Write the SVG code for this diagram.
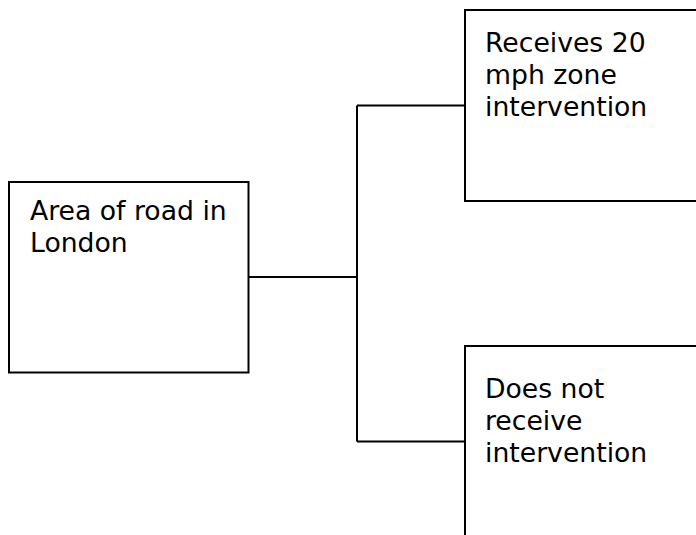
<svg xmlns="http://www.w3.org/2000/svg" width="696" height="535" viewBox="0 0 696 535">
<style>
.box{fill:#fff;stroke:#000;stroke-width:2}
.t{font-family:"DejaVu Sans",Verdana,sans-serif;font-size:26.67px;fill:#000}
.c{fill:none;stroke:#000;stroke-width:2}
</style>
<rect width="696" height="535" fill="#fff"/>
<g id="connectors">
<path class="c" d="M248.5,277 H357 M357,105.5 V441.5 M357,105.5 H465 M357,441.5 H465"/>
</g>
<g id="node-area">
<rect class="box" x="9" y="182" width="239.5" height="190.5"/>
<text class="t" x="30" y="220">Area of road in</text>
<text class="t" x="30" y="252">London</text>
</g>
<g id="node-receives">
<rect class="box" x="465" y="10" width="240" height="191"/>
<text class="t" x="485" y="52">Receives 20</text>
<text class="t" x="485" y="84">mph zone</text>
<text class="t" x="485" y="116">intervention</text>
</g>
<g id="node-not">
<rect class="box" x="465" y="346" width="240" height="200"/>
<text class="t" x="485" y="398">Does not</text>
<text class="t" x="485" y="430">receive</text>
<text class="t" x="485" y="462">intervention</text>
</g>
</svg>
